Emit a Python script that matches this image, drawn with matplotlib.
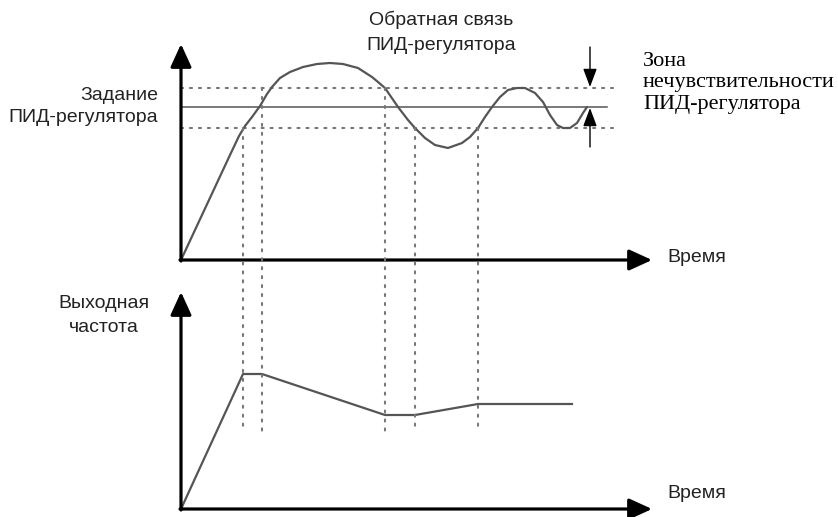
import matplotlib.pyplot as plt
from matplotlib.patches import ConnectionPatch

# feedback curve (time, value)
fb_t = [0, 49, 58, 64, 71, 79, 86, 91, 99, 109, 122, 136, 149, 162, 177, 191, 197, 204,
        217, 227, 234, 244, 254, 267, 281, 289, 297, 304, 311, 319, 327, 336, 344, 354,
        362, 369, 376, 382, 389, 396, 402, 406]
fb_v = [0, 105, 124, 134, 143, 154, 166, 173, 182, 188, 193, 196, 197, 196, 192, 183, 178, 172,
        153, 140, 132, 122, 115, 112, 117, 123, 132, 143, 153, 163, 170, 172, 172, 167,
        158, 145, 135, 132, 132, 137, 147, 153]

setpoint = 153
band_hi = 172
band_lo = 132
band_end = 432
setpoint_end = 426

# output frequency (time, value)
out_t = [0, 62, 81, 204, 234, 297, 391]
out_v = [0, 135, 135, 94, 94, 105, 105]

# vertical guides: time, level in upper plot they start from
guide_t = [62, 81, 204, 234, 297]
guide_from = [band_lo, band_hi, band_hi, band_lo, band_lo]
guide_to = 78

W, H = 838, 517
fig = plt.figure(figsize=(W / 100, H / 100), dpi=100)
plt.rcParams['font.family'] = ['Liberation Sans', 'DejaVu Sans']

# both axes span the whole figure, origin of each sits on its own axis corner
ax_top = fig.add_axes([0, 0, 1, 1])
ax_top.set_xlim(-181, W - 181)
ax_top.set_ylim(260 - H, 260)
ax_bot = fig.add_axes([0, 0, 1, 1])
ax_bot.set_xlim(-181, W - 181)
ax_bot.set_ylim(509 - H, 509)
for ax in (ax_top, ax_bot):
    ax.axis('off')
    ax.patch.set_alpha(0)

dot_color = '#777777'
dot_style = (0, (1, 3.3))
dotted = dict(color=dot_color, lw=1.5, linestyle=dot_style, dash_capstyle='round')
arrow = dict(arrowstyle='-|>,head_length=0.7,head_width=0.32', lw=2.3, color='black',
             shrinkA=0, shrinkB=0, mutation_scale=20)

# upper plot
ax_top.plot([0, band_end], [band_hi, band_hi], **dotted)
ax_top.plot([0, band_end], [band_lo, band_lo], **dotted)
ax_top.plot([0, setpoint_end], [setpoint, setpoint], color='#555555', lw=1.1)
ax_top.plot(fb_t, fb_v, color='#555555', lw=1.6, solid_capstyle='round', solid_joinstyle='round')
ax_top.annotate('', xy=(0, 216), xytext=(0, -1), arrowprops=arrow)
ax_top.annotate('', xy=(471, 0), xytext=(-1, 0), arrowprops=arrow)

# dead zone arrows
thin = dict(arrowstyle='-|>,head_length=0.8,head_width=0.3', lw=1.0, color='black',
            shrinkA=0, shrinkB=0, mutation_scale=14)
ax_top.annotate('', xy=(409, band_hi + 1), xytext=(409, 213), arrowprops=thin)
ax_top.annotate('', xy=(409, setpoint - 1), xytext=(409, 113), arrowprops=thin)

# lower plot
ax_bot.plot(out_t, out_v, color='#555555', lw=1.6)
ax_bot.annotate('', xy=(0, 217), xytext=(0, -1), arrowprops=arrow)
ax_bot.annotate('', xy=(471, 0), xytext=(-1, 0), arrowprops=arrow)

for t, v in zip(guide_t, guide_from):
    con = ConnectionPatch(xyA=(t, v), coordsA=ax_top.transData,
                          xyB=(t, guide_to), coordsB=ax_bot.transData,
                          color=dot_color, lw=1.5, linestyle=dot_style, capstyle='round')
    fig.add_artist(con)


def px(x, y):
    return x / W, 1 - y / H


fs = 14
ink = '#222222'
fig.text(*px(441, 20), 'Обратная связь', ha='center', va='center', fontsize=fs, color=ink)
fig.text(*px(441, 45), 'ПИД-регулятора', ha='center', va='center', fontsize=fs, color=ink)
fig.text(*px(158, 96), 'Задание', ha='right', va='center', fontsize=fs, color=ink)
fig.text(*px(158, 118), 'ПИД-регулятора', ha='right', va='center', fontsize=fs, color=ink)
fig.text(*px(104, 304), 'Выходная', ha='center', va='center', fontsize=fs, color=ink)
fig.text(*px(104, 327), 'частота', ha='center', va='center', fontsize=fs, color=ink)
fig.text(*px(667, 258), 'Время', ha='left', va='center', fontsize=fs, color=ink)
fig.text(*px(667, 493), 'Время', ha='left', va='center', fontsize=fs, color=ink)

serif = ['Liberation Serif', 'DejaVu Serif']
fig.text(*px(643, 62), 'Зона', ha='left', va='center', fontsize=16, family=serif)
fig.text(*px(643, 83), 'нечувствительности', ha='left', va='center', fontsize=16, family=serif)
fig.text(*px(643, 104), 'ПИД-регулятора', ha='left', va='center', fontsize=16, family=serif)

fig.savefig('out.png', dpi=100)
